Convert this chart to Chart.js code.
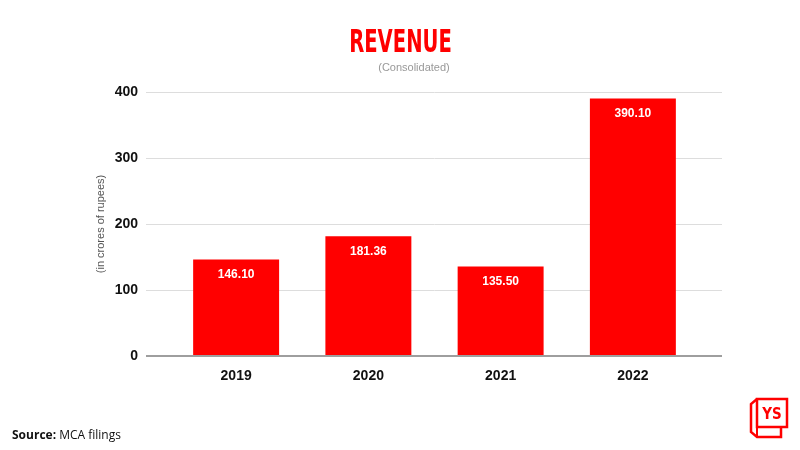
<!DOCTYPE html>
<html>
<head>
<meta charset="utf-8">
<script src="https://cdn.jsdelivr.net/npm/chart.js@4"></script>
<style>
	html, body { margin: 0; padding: 0; background: #fff; }
	#wrap { position: relative; width: 800px; height: 450px; overflow: hidden; }
	#chart { position: absolute; left: 0; top: 0; }
	#title { position: absolute; left: 0; width: 800px; top: 22px; text-align: center; }
	#title span { display: inline-block; transform: scaleX(0.68); transform-origin: center;
		font: bold 32px "Liberation Sans Narrow", "DejaVu Sans Condensed", sans-serif; color: #ff0000; }
	#sub { position: absolute; left: 14px; width: 800px; top: 61px; text-align: center;
		font: 11px "Liberation Sans", Arial, sans-serif; color: #999; }
	#source { position: absolute; left: 12px; top: 426px; font: 12px "Open Sans", sans-serif; color: #111; }
	#logo { position: absolute; left: 740px; top: 394px; }
</style>
</head>
<body>
<div id="wrap">
	<canvas id="chart" width="800" height="450"></canvas>
	<div id="title"><span>REVENUE</span></div>
	<div id="sub">(Consolidated)</div>
	<div id="source"><b>Source:</b> MCA filings</div>
	<svg id="logo" width="56" height="50" viewBox="0 0 56 50">
		<rect x="17" y="5" width="30" height="28" fill="none" stroke="#ff0000" stroke-width="2.5"/>
		<polyline points="17,5 11,10 11,38 17,43 41,43 41,33" fill="none" stroke="#ff0000" stroke-width="2.5" stroke-linejoin="miter"/>
		<line x1="17" y1="33" x2="17" y2="43" stroke="#ff0000" stroke-width="2"/>
		<text x="32" y="25" text-anchor="middle" font-family="Liberation Sans Narrow, DejaVu Sans Condensed, sans-serif" font-weight="bold" font-size="15" fill="#ff0000">YS</text>
	</svg>
</div>
<script>
const years = ["2019", "2020", "2021", "2022"];
const revenue = [146.10, 181.36, 135.50, 390.10];
const yTicks = [0, 100, 200, 300, 400];

const gridColor = (c) => (c.tick && c.tick.value === 0 ? "#9e9e9e" : "#dddddd");
const gridWidth = (c) => (c.tick && c.tick.value === 0 ? 2 : 1);

// value labels inside the top of each bar
const barLabels = {
	id: "barLabels",
	afterDatasetsDraw(chart) {
		const { ctx } = chart;
		const meta = chart.getDatasetMeta(0);
		ctx.save();
		ctx.fillStyle = "#ffffff";
		ctx.font = "bold 12px 'Liberation Sans', Arial, sans-serif";
		ctx.textAlign = "center";
		ctx.textBaseline = "middle";
		meta.data.forEach((bar, i) => {
			ctx.fillText(revenue[i].toFixed(2), bar.x, bar.y + 15);
		});
		ctx.restore();
	},
};

const ctx = document.getElementById("chart").getContext("2d");

window.chart = new Chart(ctx, {
	type: "bar",
	data: {
		labels: years,
		datasets: [
			{
				data: revenue,
				backgroundColor: "#ff0000",
				categoryPercentage: 1,
				barPercentage: 0.65,
			},
		],
	},
	options: {
		responsive: false,
		animation: false,
		layout: { padding: { left: 90, right: 78, top: 92, bottom: 0 } },
		plugins: {
			legend: { display: false },
			tooltip: { enabled: false },
			title: { display: false },
		},
		scales: {
			x: {
				grid: { display: false },
				border: { display: false },
				ticks: {
					color: "#111",
					padding: 4,
					font: { family: "'Liberation Sans', Arial, sans-serif", size: 14, weight: "bold" },
				},
				afterFit: (s) => { s.height = 94; },
			},
			y: {
				min: 0,
				max: 400,
				afterBuildTicks: (s) => { s.ticks = yTicks.map((v) => ({ value: v })); },
				border: { display: false },
				grid: { color: gridColor, lineWidth: gridWidth, tickLength: 24, drawTicks: true },
				ticks: {
					color: "#111",
					padding: 8,
					font: { family: "'Liberation Sans', Arial, sans-serif", size: 14, weight: "bold" },
				},
				title: {
					display: true,
					text: "(in crores of rupees)",
					color: "#555",
					font: { family: "'Liberation Sans', Arial, sans-serif", size: 11 },
				},
				afterFit: (s) => { s.width = 80; },
			},
			y2: {
				position: "right",
				min: 0,
				max: 400,
				afterBuildTicks: (s) => { s.ticks = yTicks.map((v) => ({ value: v })); },
				border: { display: false },
				grid: { color: gridColor, lineWidth: gridWidth, tickLength: 23, drawOnChartArea: false },
				ticks: { display: false },
				afterFit: (s) => { s.width = 23; },
			},
		},
	},
	plugins: [barLabels],
});
</script>
</body>
</html>
